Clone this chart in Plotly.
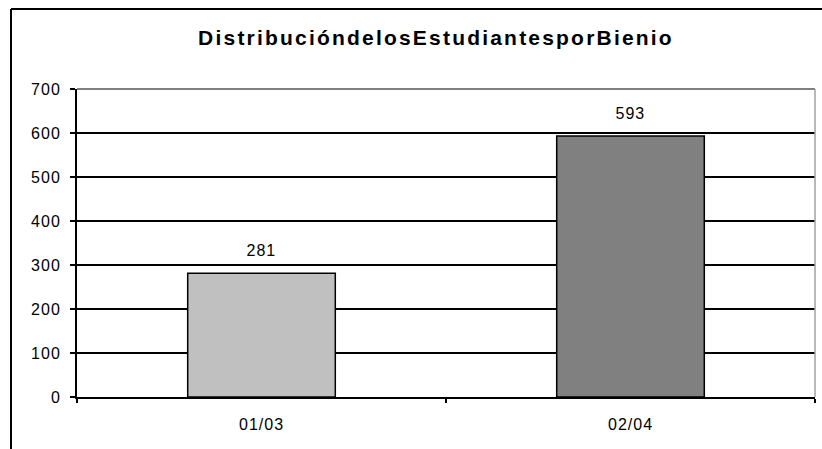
import plotly.graph_objects as go

categories = ["01/03", "02/04"]
values = [281, 593]
bar_colors = ["#C0C0C0", "#808080"]
title_text = "Distribucióndelos" + "EstudiantesporBienio"
y_ticks = [0, 100, 200, 300, 400, 500, 600, 700]

W, H = 822, 449
L, R, T, B = 77, 7, 89, 52
pw, ph = W - L - R, H - T - B

def px_x(p):
    return (p - L) / pw

def px_y(p):
    return (H - B - p) / ph

FONT = "Liberation Sans, Arial, sans-serif"

fig = go.Figure()
fig.add_trace(go.Bar(
    x=categories, y=values,
    marker=dict(color=bar_colors, line=dict(color="black", width=1.5)),
    width=0.4,
    hoverinfo="x+y",
))

for c, v in zip(categories, values):
    fig.add_annotation(x=c, y=v, text=str(v), showarrow=False,
                       yanchor="bottom", yshift=12,
                       font=dict(family=FONT, size=16, color="black"))

fig.update_layout(
    width=W, height=H,
    margin=dict(l=L, r=R, t=T, b=B),
    paper_bgcolor="white", plot_bgcolor="white",
    showlegend=False,
    title=dict(text="<b>" + title_text + "</b>", x=436 / W, xanchor="center",
               y=1 - 38 / H, yanchor="middle",
               font=dict(family=FONT, size=21, color="black")),
    font=dict(family=FONT, size=16, color="black"),
    xaxis=dict(type="category", tickson="boundaries", ticks="outside",
               ticklen=4, tickcolor="black", tickwidth=1.5,
               showline=True, linecolor="black", linewidth=2,
               showgrid=False, range=[-0.5, 1.5], ticklabelstandoff=12,
               tickfont=dict(family=FONT, size=16, color="black")),
    yaxis=dict(range=[0, 700], tickvals=y_ticks, ticks="outside",
               ticklen=5, tickcolor="black", tickwidth=1.5,
               showline=True, linecolor="black", linewidth=2,
               showgrid=True, gridcolor="black", gridwidth=1.5,
               zeroline=False, ticklabelstandoff=6,
               tickfont=dict(family=FONT, size=16, color="black")),
    shapes=[
        dict(type="line", xref="paper", yref="paper", x0=0, x1=1, y0=1, y1=1,
             line=dict(color="#808080", width=2)),
        dict(type="line", xref="paper", yref="paper", x0=1, x1=1, y0=0, y1=1,
             line=dict(color="#A0A0A0", width=1.5)),
        dict(type="line", xref="paper", yref="paper", x0=px_x(11), x1=px_x(830),
             y0=px_y(9), y1=px_y(9), line=dict(color="black", width=2)),
        dict(type="line", xref="paper", yref="paper", x0=px_x(11), x1=px_x(11),
             y0=px_y(9), y1=px_y(460), line=dict(color="black", width=2)),
    ],
)

post = ("document.body.style.margin='0';"
        "document.documentElement.style.overflow='hidden';"
        "document.body.style.overflow='hidden';"
        "var t=document.querySelector('.gtitle');"
        "if(t){t.style.letterSpacing='2.2px';}"
        "document.querySelectorAll('.xtick text, .ytick text, .annotation-text')"
        ".forEach(function(e){e.style.letterSpacing='1px';});")

fig.write_html("out.html", post_script=post, config={"displayModeBar": False})
